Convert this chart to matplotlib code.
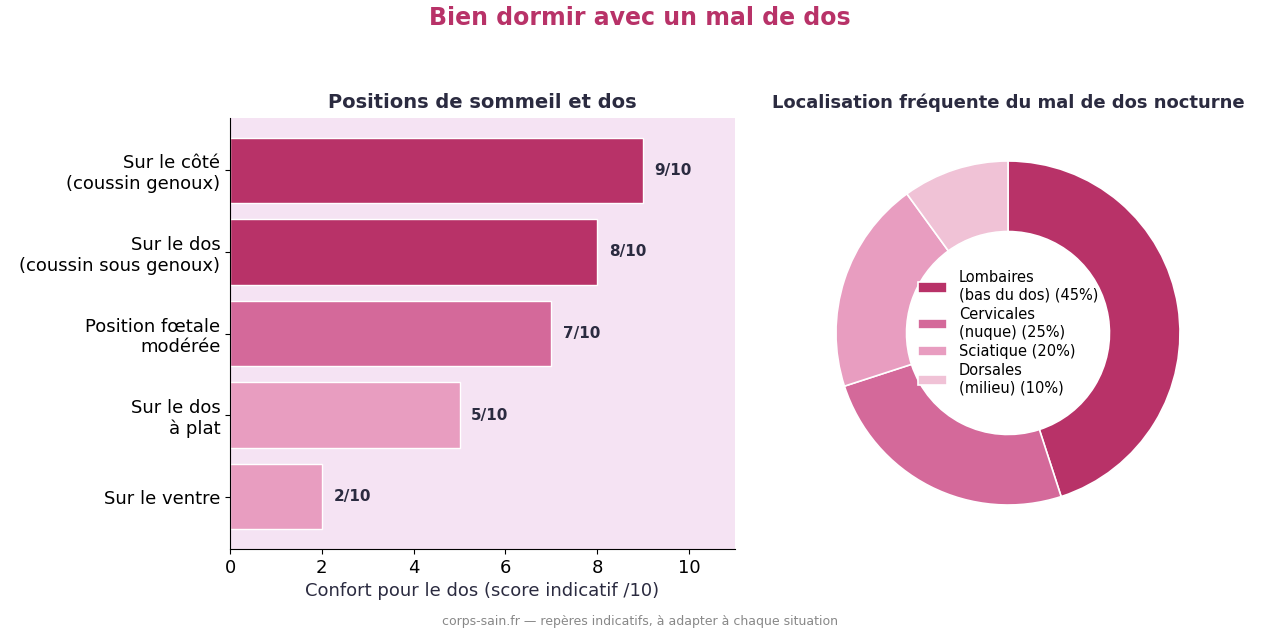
import matplotlib.pyplot as plt

POSITIONS = [
    "Sur le côté\n(coussin genoux)",
    "Sur le dos\n(coussin sous genoux)",
    "Position fœtale\nmodérée",
    "Sur le dos\nà plat",
    "Sur le ventre",
]
SCORES = [9, 8, 7, 5, 2]
BAR_COLORS = ["#B83268", "#B83268", "#D4699A", "#E89DC0", "#E89DC0"]

ZONES = [
    "Lombaires\n(bas du dos) (45%)",
    "Cervicales\n(nuque) (25%)",
    "Sciatique (20%)",
    "Dorsales\n(milieu) (10%)",
]
SHARES = [45, 25, 20, 10]
PIE_COLORS = ["#B83268", "#D4699A", "#E89DC0", "#F0C2D6"]

DARK = "#2B2B40"


def main() -> None:
    fig = plt.figure(figsize=(12.8, 6.4), dpi=100)
    fig.suptitle("Bien dormir avec un mal de dos", color="#B83268",
                 fontsize=17, fontweight="bold", y=0.99)

    # bar chart
    ax = fig.add_axes([230 / 1280, 1 - 549 / 640, 505 / 1280, 431 / 640])
    ax.set_facecolor("#F5E3F3")
    y = range(len(POSITIONS))
    ax.barh(y, SCORES, height=0.8, color=BAR_COLORS, edgecolor="white", linewidth=1)
    for i, s in enumerate(SCORES):
        ax.text(s + 0.25, i, f"{s}/10", va="center", ha="left",
                fontsize=11, fontweight="bold", color=DARK)
    ax.set_yticks(list(y))
    ax.set_yticklabels(POSITIONS, fontsize=13)
    ax.invert_yaxis()
    ax.set_xlim(0, 11)
    ax.set_xticks([0, 2, 4, 6, 8, 10])
    ax.tick_params(axis="x", labelsize=13)
    ax.set_xlabel("Confort pour le dos (score indicatif /10)", fontsize=13, color=DARK)
    ax.set_title("Positions de sommeil et dos", fontsize=14, fontweight="bold",
                 color=DARK, pad=7)
    for side in ("top", "right"):
        ax.spines[side].set_visible(False)

    # donut
    r_px = 172
    cx, cy = 1008, 333
    w = 2.5 * r_px
    pax = fig.add_axes([(cx - w / 2) / 1280, 1 - (cy + w / 2) / 640, w / 1280, w / 640])
    wedges, _ = pax.pie(SHARES, colors=PIE_COLORS, startangle=90, counterclock=False,
                        wedgeprops=dict(width=0.41, edgecolor="white", linewidth=1.2))
    pax.set_xlim(-1.25, 1.25)
    pax.set_ylim(-1.25, 1.25)
    pax.set_aspect("equal")
    pax.legend(wedges, ZONES, loc="center", frameon=False, fontsize=10.5,
               handlelength=2, labelspacing=0.3, handletextpad=0.8)
    fig.text(cx / 1280, 1 - 103 / 640, "Localisation fréquente du mal de dos nocturne",
             ha="center", va="center", fontsize=13, fontweight="bold", color=DARK)

    fig.text(0.5, 1 - 622 / 640, "corps-sain.fr — repères indicatifs, à adapter à chaque situation",
             ha="center", va="center", fontsize=9, color="#888888")

    fig.savefig("out.png", dpi=100)


if __name__ == "__main__":
    main()
